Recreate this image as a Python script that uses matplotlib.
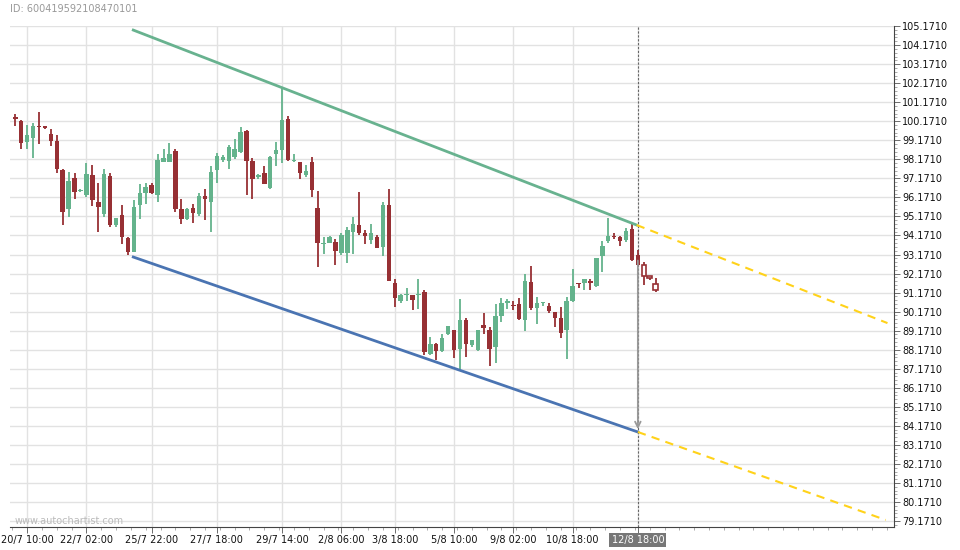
import numpy as np
import matplotlib.pyplot as plt
from matplotlib.ticker import FixedLocator, FormatStrFormatter

# 4h candles (last three are the projected / hollow ones)
opens = [100.40, 100.19, 99.10, 99.31, 99.88, 99.87, 99.50, 99.14, 97.61, 95.57,
         97.19, 96.50, 96.31, 97.35, 95.93, 95.31, 97.29, 94.71, 95.24, 94.05,
         93.31, 95.78, 96.40, 96.82, 96.31, 98.03, 98.05, 98.61, 95.56, 95.05,
         95.61, 95.29, 96.24, 95.94, 97.63, 98.14, 98.10, 98.29, 98.56, 99.66,
         98.08, 97.24, 97.45, 96.68, 98.47, 98.64, 100.29, 98.08, 98.03, 97.36,
         98.03, 95.61, 93.72, 93.79, 93.82, 93.26, 93.26, 94.36, 94.71, 94.31,
         93.93, 94.10, 93.57, 95.77, 91.66, 90.73, 91.03, 91.03, 91.05, 91.19,
         87.96, 88.45, 88.10, 88.98, 89.19, 88.22, 89.75, 88.42, 88.14, 89.49,
         89.19, 88.31, 89.93, 90.63, 90.53, 90.56, 89.75, 91.71, 90.36, 90.63,
         90.49, 90.14, 89.82, 89.19, 90.73, 91.67, 91.65, 91.77, 91.50, 93.08,
         93.87, 94.16, 94.08, 93.93, 94.50, 93.14, 92.64, 92.03, 91.61]
highs = [100.56, 100.24, 99.98, 100.10, 100.66, 99.88, 99.75, 99.45, 97.64, 97.50,
         97.43, 96.63, 97.96, 97.85, 96.93, 97.66, 97.43, 95.08, 95.75, 94.10,
         96.06, 96.86, 96.91, 96.91, 98.45, 98.71, 99.01, 98.71, 96.08, 95.61,
         95.82, 96.38, 96.59, 97.82, 98.49, 98.40, 98.93, 99.22, 99.86, 99.71,
         98.22, 97.38, 97.80, 98.33, 99.08, 101.91, 100.45, 98.45, 98.05, 97.86,
         98.31, 96.49, 94.10, 94.14, 94.01, 94.28, 94.63, 95.15, 96.47, 94.45,
         94.75, 94.19, 95.91, 96.59, 91.86, 91.12, 91.43, 91.05, 91.86, 91.29,
         88.84, 88.52, 89.01, 89.40, 89.19, 90.82, 89.86, 88.70, 89.22, 90.10,
         89.36, 90.56, 90.89, 90.82, 90.73, 90.91, 92.17, 92.59, 90.94, 90.66,
         90.63, 90.14, 90.42, 90.94, 92.43, 91.67, 91.87, 91.89, 92.98, 93.89,
         95.07, 94.31, 94.17, 94.54, 94.80, 93.43, 92.79, 92.03, 91.96]
lows = [99.93, 98.70, 98.70, 98.22, 98.96, 99.74, 98.89, 97.43, 94.70, 95.12,
        96.10, 96.43, 96.19, 95.71, 94.33, 95.12, 94.63, 94.63, 93.70, 93.17,
        93.29, 95.03, 95.85, 96.35, 95.91, 98.01, 98.01, 95.38, 94.80, 95.01,
        94.85, 95.19, 95.01, 94.33, 96.91, 98.05, 97.65, 98.21, 98.52, 96.28,
        96.07, 97.12, 96.87, 96.59, 97.82, 97.99, 98.08, 98.01, 97.15, 97.22,
        96.17, 92.50, 93.20, 93.76, 92.64, 93.14, 92.70, 93.22, 94.19, 93.70,
        93.70, 93.49, 93.10, 91.77, 90.42, 90.64, 90.73, 90.24, 90.33, 87.87,
        87.87, 87.64, 88.05, 88.93, 87.73, 87.14, 87.79, 88.31, 88.10, 89.01,
        87.30, 87.49, 89.63, 90.33, 90.24, 89.75, 89.14, 90.28, 89.54, 90.49,
        90.10, 89.36, 88.80, 87.70, 90.68, 91.43, 91.30, 91.30, 91.47, 92.26,
        93.79, 93.99, 93.64, 93.84, 92.84, 92.59, 91.56, 91.82, 91.19]
closes = [100.31, 99.05, 99.45, 99.93, 99.86, 99.84, 99.15, 97.68, 95.42, 97.03,
          96.47, 96.57, 97.40, 96.05, 95.68, 97.40, 94.71, 95.08, 94.10, 93.31,
          95.66, 96.40, 96.71, 96.40, 98.14, 98.24, 98.45, 95.57, 95.05, 95.56,
          95.36, 96.24, 96.10, 97.50, 98.35, 98.28, 98.82, 98.70, 99.61, 98.10,
          97.15, 97.33, 96.89, 98.29, 98.66, 100.24, 98.14, 98.15, 97.47, 97.56,
          96.57, 93.79, 93.76, 94.10, 93.36, 94.19, 94.45, 94.77, 94.31, 94.17,
          94.28, 93.52, 95.77, 91.79, 90.89, 91.03, 91.08, 90.79, 91.08, 88.05,
          88.45, 88.10, 88.80, 89.40, 88.17, 89.75, 88.49, 88.66, 89.22, 89.33,
          88.21, 89.93, 90.61, 90.71, 90.47, 89.79, 91.77, 90.36, 90.64, 90.66,
          90.21, 89.86, 89.05, 90.71, 91.50, 91.63, 91.87, 91.65, 92.98, 93.64,
          94.14, 94.08, 93.89, 94.40, 92.87, 92.64, 92.05, 91.96, 91.29]
n_future = 3

tick_pos = [2, 12, 23, 34, 45, 55, 64, 74, 84, 94, 105]
tick_labels = ['20/7 10:00', '22/7 02:00', '25/7 22:00', '27/7 18:00', '29/7 14:00',
               '2/8 06:00', '3/8 18:00', '5/8 10:00', '9/8 02:00', '10/8 18:00',
               '12/8 18:00']

# channel (candle index, price)
upper_x = [19.9, 104.8]
upper_y = [104.96, 94.72]
upper_proj_x = [104.8, 147.1]
upper_proj_y = [94.72, 89.57]
lower_x = [19.9, 105.0]
lower_y = [93.04, 83.85]
lower_proj_x = [105.0, 146.8]
lower_proj_y = [83.85, 79.23]
pattern_end = 105
arrow_from = 93.0

green = '#64b38c'
red = '#973034'

fig = plt.figure(figsize=(9.6, 5.5), dpi=100)
ax = fig.add_axes([10/960, 23/550, 884/960, 501.5/550])

o = np.array(opens)
h = np.array(highs)
l = np.array(lows)
c = np.array(closes)
x = np.arange(len(o))
n_done = len(o) - n_future

colors = np.where(c >= o, green, red)
bottom = np.minimum(o, c)
height = np.maximum(np.abs(c - o), 0.06)

# wicks
ax.vlines(x, l, h, colors=colors, lw=1.3, zorder=3)
# bodies
ax.bar(x[:n_done], height[:n_done], bottom=bottom[:n_done], width=0.75,
       color=colors[:n_done], zorder=4)
ax.bar(x[n_done:], height[n_done:], bottom=bottom[n_done:], width=0.75,
       facecolor='white', edgecolor=colors[n_done:], lw=1.2, zorder=4)

# channel lines
ax.plot(upper_x, upper_y, color='#68b28f', lw=2, zorder=5)
ax.plot(lower_x, lower_y, color='#4a74b2', lw=2, zorder=5)
ax.plot(upper_proj_x, upper_proj_y, color='#ffd21a', lw=1.5, ls=(0, (4, 3)), zorder=5)
ax.plot(lower_proj_x, lower_proj_y, color='#ffd21a', lw=1.5, ls=(0, (4, 3)), zorder=5)

# end of pattern marker + target arrow
ax.axvline(pattern_end, color='#666666', lw=0.8, ls=(0, (2, 1.5)), zorder=2)
ax.annotate('', xy=(pattern_end, lower_proj_y[0]), xytext=(pattern_end, arrow_from),
            arrowprops=dict(arrowstyle='->', color='#999999', lw=1.3), zorder=6)

ax.set_xlim(-0.89, 148.2)
ax.set_ylim(78.86, 105.2)

# axes styling
ax.yaxis.tick_right()
ax.yaxis.set_major_locator(FixedLocator(np.arange(79.171, 105.2, 1.0)))
ax.yaxis.set_minor_locator(FixedLocator(np.arange(78.971, 105.2, 0.2)))
ax.yaxis.set_major_formatter(FormatStrFormatter('%.4f'))
ax.set_xticks(tick_pos)
ax.set_xticklabels(tick_labels)
ax.xaxis.set_minor_locator(FixedLocator(np.arange(-0.5, 148, 2.5)))

ax.tick_params(axis='both', which='major', labelsize=7, length=4, width=0.6,
               color='#555555', labelcolor='#111111', pad=2)
ax.tick_params(axis='both', which='minor', length=2, width=0.5, color='#888888')

ax.grid(True, which='major', color='#e2e2e2', lw=1, zorder=0)
ax.set_axisbelow(True)
for s in ['left', 'top']:
    ax.spines[s].set_visible(False)
for s in ['right', 'bottom']:
    ax.spines[s].set_color('#444444')
    ax.spines[s].set_linewidth(0.8)

last = ax.get_xticklabels()[-1]
last.set_color('white')
last.set_bbox(dict(facecolor='#777777', edgecolor='none', pad=1.5))

fig.text(10/960, 1 - 9/550, 'ID: 600419592108470101', color='#999999',
         fontsize=7, va='center')
fig.text(15/960, 1 - 521/550, 'www.autochartist.com', color='#bbbbbb',
         fontsize=7, va='center')

fig.savefig('out.png', dpi=100)
